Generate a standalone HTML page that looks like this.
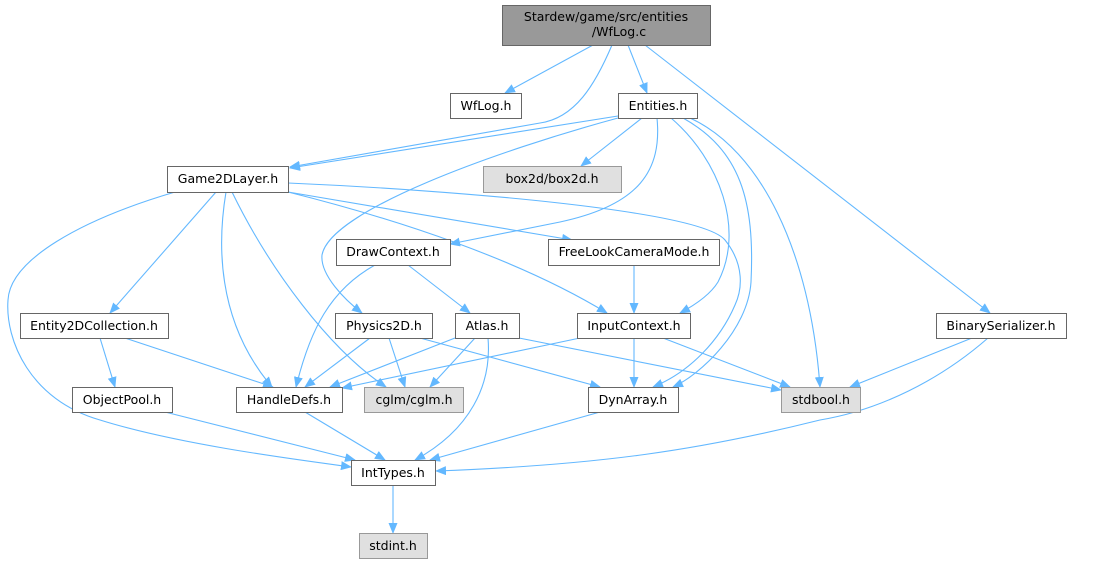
<!DOCTYPE html>
<html><head><meta charset="utf-8"><style>
html,body{margin:0;padding:0;background:#fff;}
svg{display:block;}
text{font-family:"DejaVu Sans","Liberation Sans",sans-serif;font-size:12.5px;fill:#000;}
</style></head><body>
<svg width="1096" height="564" viewBox="0 0 1096 564" xmlns="http://www.w3.org/2000/svg">
<defs>
<marker id="a" markerWidth="11" markerHeight="9" refX="10" refY="4.5" orient="auto" markerUnits="userSpaceOnUse">
<path d="M0,0 L11,4.5 L0,9 z" fill="#63b8ff"/>
</marker>
</defs>
<g fill="none" stroke="#63b8ff" stroke-width="1.1" marker-end="url(#a)">
<path d="M593,45 L505,93"/>
<path d="M612,45 C595,85 575,118 540,123 L290,167"/>
<path d="M628,45 L647,93"/>
<path d="M645,45 L990,313"/>
<path d="M618,116 L290,168"/>
<path d="M642,118 L581,166"/>
<path d="M618,118 C500,150 330,210 322,255 C320,275 345,300 362,313"/>
<path d="M657,118 C662,170 640,205 560,222 L450,244"/>
<path d="M671,118 C720,160 745,230 718,282 C710,295 695,305 680,313"/>
<path d="M288,183 C450,190 700,210 725,240 C745,265 742,290 735,305 C720,340 690,372 653,387"/>
<path d="M683,118 C740,150 755,200 751,282 C748,330 700,375 673,387"/>
<path d="M690,118 C760,150 810,250 820,387"/>
<path d="M288,192 C400,220 520,260 607,313"/>
<path d="M288,192 L572,240"/>
<path d="M216,192 L110,313"/>
<path d="M226,192 C218,240 215,320 272,387"/>
<path d="M232,192 C270,270 330,350 386,387"/>
<path d="M175,192 C80,220 10,260 8,300 C5,340 30,400 100,420 C180,445 300,460 351,467"/>
<path d="M408,265 L470,313"/>
<path d="M375,265 C330,290 310,330 296,387"/>
<path d="M634,265 L634,313"/>
<path d="M100,338 L115,387"/>
<path d="M125,338 L273,387"/>
<path d="M370,338 L305,387"/>
<path d="M389,338 L405,387"/>
<path d="M420,338 L600,387"/>
<path d="M455,338 L330,387"/>
<path d="M475,338 L430,387"/>
<path d="M488,338 C492,385 470,430 415,460"/>
<path d="M519,338 L781,390"/>
<path d="M580,338 L342,388"/>
<path d="M634,338 L634,387"/>
<path d="M663,338 L790,387"/>
<path d="M972,338 L850,387"/>
<path d="M988,338 C940,380 880,410 820,420 C700,450 600,465 436,471"/>
<path d="M305,412 L385,460"/>
<path d="M165,412 L355,460"/>
<path d="M600,412 L430,460"/>
<path d="M393,485 L393,533"/>
</g>
<g stroke="#666" stroke-width="1">
<rect x="502.5" y="5.5" width="208" height="40" fill="#999"/>
<rect x="450.5" y="93.5" width="71" height="25" fill="#fff"/>
<rect x="618.5" y="93.5" width="79" height="25" fill="#fff"/>
<rect x="167.5" y="166.5" width="121" height="26" fill="#fff"/>
<rect x="483.5" y="166.5" width="138" height="26" fill="#e0e0e0" stroke="#999"/>
<rect x="336.5" y="239.5" width="114" height="26" fill="#fff"/>
<rect x="548.5" y="239.5" width="171" height="26" fill="#fff"/>
<rect x="20.5" y="313.5" width="148" height="25" fill="#fff"/>
<rect x="335.5" y="313.5" width="97" height="25" fill="#fff"/>
<rect x="455.5" y="313.5" width="64" height="25" fill="#fff"/>
<rect x="577.5" y="313.5" width="113" height="25" fill="#fff"/>
<rect x="936.5" y="313.5" width="130" height="25" fill="#fff"/>
<rect x="72.5" y="387.5" width="100" height="25" fill="#fff"/>
<rect x="236.5" y="387.5" width="106" height="25" fill="#fff"/>
<rect x="364.5" y="387.5" width="99" height="25" fill="#e0e0e0" stroke="#999"/>
<rect x="588.5" y="387.5" width="90" height="25" fill="#fff"/>
<rect x="781.5" y="387.5" width="79" height="25" fill="#e0e0e0" stroke="#999"/>
<rect x="351.5" y="460.5" width="84" height="25" fill="#fff"/>
<rect x="359.5" y="533.5" width="68" height="25" fill="#e0e0e0" stroke="#999"/>
</g>
<g text-anchor="middle">
<text x="606" y="21">Stardew/game/src/entities</text>
<text x="619" y="36">/WfLog.c</text>
<text x="486" y="110">WfLog.h</text>
<text x="658" y="110">Entities.h</text>
<text x="228" y="183">Game2DLayer.h</text>
<text x="552" y="183">box2d/box2d.h</text>
<text x="393" y="256">DrawContext.h</text>
<text x="634" y="256">FreeLookCameraMode.h</text>
<text x="94" y="330">Entity2DCollection.h</text>
<text x="384" y="330">Physics2D.h</text>
<text x="487" y="330">Atlas.h</text>
<text x="634" y="330">InputContext.h</text>
<text x="1001" y="330">BinarySerializer.h</text>
<text x="122" y="404">ObjectPool.h</text>
<text x="289" y="404">HandleDefs.h</text>
<text x="414" y="404">cglm/cglm.h</text>
<text x="633" y="404">DynArray.h</text>
<text x="821" y="404">stdbool.h</text>
<text x="393" y="477">IntTypes.h</text>
<text x="393" y="550">stdint.h</text>
</g>
</svg>
</body></html>
